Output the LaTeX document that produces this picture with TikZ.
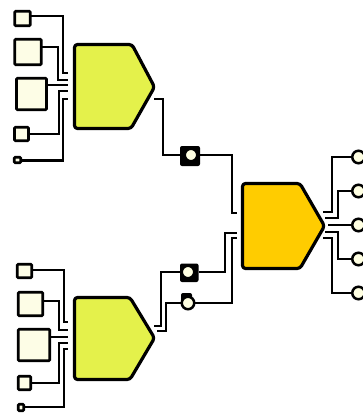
\documentclass[tikz,border=0pt]{standalone}
\begin{document}
\begin{tikzpicture}[x=1pt,y=-1pt,
  wire/.style={line width=2.5pt,line join=miter},
  sq/.style={draw,line width=2.8pt,fill=sqfill,rounded corners=1pt,inner sep=0pt,outer sep=0pt},
  pin/.style={circle,draw,line width=2.5pt,fill=pinfill,minimum size=12.5pt,inner sep=0pt,outer sep=0pt},
  penta/.style={draw,line width=3.2pt,rounded corners=3pt,line join=round},
  plate/.style={fill=black,rounded corners=2pt}]
\definecolor{sqfill}{HTML}{FDFDE6}
\definecolor{pinfill}{HTML}{FFFFE2}
\definecolor{greenfill}{HTML}{E4F14B}
\definecolor{orangefill}{HTML}{FFCC00}
\useasboundingbox (0,0) rectangle (362,415);

% ---------- pentagons ----------
\draw[penta,fill=greenfill] (74.5,44.5) -- (132,44.5) -- (154.5,87) -- (131,128.5) -- (74.5,128.5) -- cycle;
\draw[penta,fill=greenfill] (74.5,297.5) -- (130,297.5) -- (154.5,338) -- (130,379.5) -- (74.5,379.5) -- cycle;
\draw[penta,fill=orangefill] (242.5,183.5) -- (300,183.5) -- (324.5,226) -- (300,268.5) -- (242.5,268.5) -- cycle;

% ---------- top-left squares ----------
\node[sq,minimum width=15.5pt,minimum height=14.5pt] (a1) at (22.5,18.5) {};
\node[sq,minimum width=26.5pt,minimum height=25.5pt] (a2) at (28,52) {};
\node[sq,minimum width=30pt,minimum height=31.5pt] (a3) at (31.5,94) {};
\node[sq,minimum width=14pt,minimum height=13.5pt] (a4) at (21.5,134) {};
\node[sq,minimum width=6.5pt,minimum height=5.5pt] (a5) at (17.5,160) {};

% ---------- bottom-left squares ----------
\node[sq,minimum width=14.5pt,minimum height=13.5pt] (b1) at (24.5,271) {};
\node[sq,minimum width=24.5pt,minimum height=23.5pt] (b2) at (30.5,304) {};
\node[sq,minimum width=31.5pt,minimum height=31.5pt] (b3) at (34,345) {};
\node[sq,minimum width=12.5pt,minimum height=13.5pt] (b4) at (24.5,383) {};
\node[sq,minimum width=5.5pt,minimum height=6.5pt] (b5) at (21,407.5) {};

% ---------- middle pins ----------
\fill[plate] (180,146) rectangle (200,166);
\node[pin] (c1) at (191,155) {};
\fill[plate] (180,263.5) rectangle (198.5,282);
\node[pin] (c2) at (188,272) {};
\fill[plate] (181,293) rectangle (192,303);
\node[pin] (c3) at (188,303) {};

% ---------- right pins ----------
\foreach \i/\y in {1/157,2/191,3/225,4/259,5/293}
  \node[pin] (r\i) at (358.5,\y) {};

% ---------- top-left wires ----------
\draw[wire] (a1.east |- 0,16) -| (63,73) -- (68,73);
\draw[wire] (a2.east |- 0,47) -| (58,80) -- (68,80);
\draw[wire] (a3.east |- 0,85) -- (68,85);
\draw[wire] (a4.east |- 0,134) -| (59,91) -- (68,91);
\draw[wire] (a5.east |- 0,160.5) -| (63,99) -- (68,99);

% ---------- bottom-left wires ----------
\draw[wire] (b1.east |- 0,270) -| (64,322) -- (68,322);
\draw[wire] (b2.east |- 0,301) -| (59,330) -- (68,330);
\draw[wire] (b3.east |- 0,337) -- (68,337);
\draw[wire] (b4.east |- 0,383) -| (59,343) -- (68,343);
\draw[wire] (b5.east |- 0,407) -| (64,349) -- (68,349);

% ---------- middle wires ----------
\draw[wire] (154,99) -- (163,99) -- (163,155) -- (180,155);
\draw[wire] (200,155) -- (232,155) -- (232,213) -- (237,213);
\draw[wire] (154,326) -- (161,326) -- (161,272) -- (c2.west);
\draw[wire] (157,331) -- (166,331) -- (166,303) -- (c3.west);
\draw[wire] (198.5,272) -- (225,272) -- (225,233) -- (237,233);
\draw[wire] (c3.east) -- (232,303) -- (232,238) -- (237,238);

% ---------- right wires ----------
\draw[wire] (323,212) -- (332,212) -- (332,157) -- (r1.west);
\draw[wire] (325,218) -- (338,218) -- (338,191) -- (r2.west);
\draw[wire] (328,225) -- (r3.west);
\draw[wire] (325,232) -- (338,232) -- (338,259) -- (r4.west);
\draw[wire] (323,238) -- (332,238) -- (332,293) -- (r5.west);
\end{tikzpicture}
\end{document}
